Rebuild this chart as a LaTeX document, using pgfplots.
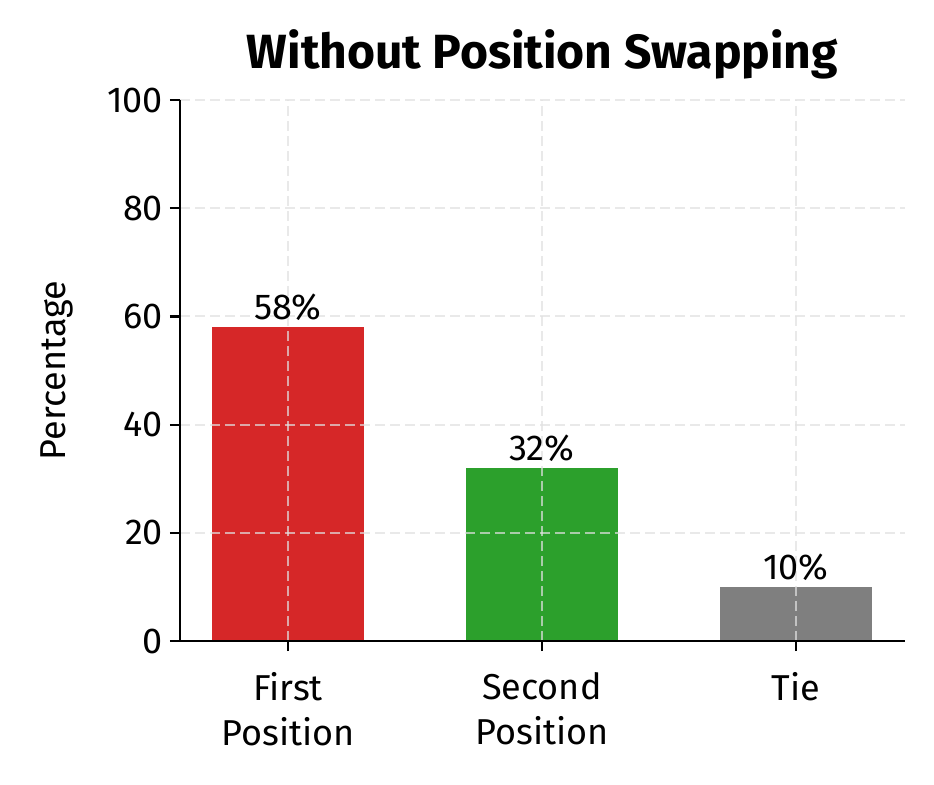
\documentclass[border=0pt]{standalone}
\usepackage{pgfplots}
\pgfplotsset{compat=1.18}
\usepackage{fontspec}
\setmainfont{Fira Sans}
\definecolor{barred}{HTML}{D62728}
\definecolor{bargreen}{HTML}{2CA02C}
\definecolor{bargray}{HTML}{7F7F7F}
\definecolor{gridgray}{HTML}{E0E0E0}
\begin{document}
\begin{tikzpicture}
\begin{axis}[
  scale only axis,
  width=362.5pt, height=270.5pt,
  xmin=-0.425, xmax=2.43,
  ymin=0, ymax=100,
  axis lines*=left,
  axis line style={line width=1.1pt},
  axis on top,
  xtick={0,1,2},
  xticklabels={First\\Position, Second\\Position, Tie},
  xticklabel style={align=center, font=\fontsize{18}{22.5}\selectfont, yshift=-7pt},
  ytick={0,20,40,60,80,100},
  yticklabel style={font=\fontsize{18}{20}\selectfont},
  /pgf/number format/assume math mode=true,
  tick style={line width=1.1pt, black},
  tick align=outside,
  major tick length=5pt,
  grid=major,
  major grid style={gridgray, line width=1pt, dash pattern=on 5pt off 2.5pt, opacity=0.7},
  ylabel={Percentage},
  ylabel style={font=\fontsize{18}{20}\selectfont, yshift=10pt},
  title={\textbf{Without Position Swapping}},
  title style={font=\fontsize{24}{26}\selectfont, yshift=1pt},
  ybar, bar width=0.6, bar shift=0pt,
  nodes near coords={\pgfmathprintnumber{\pgfplotspointmeta}\%},
  nodes near coords style={font=\fontsize{18}{20}\selectfont, black, inner sep=1pt, yshift=2pt},
]
\addplot[fill=barred, draw=none] coordinates {(0,58)};
\addplot[fill=bargreen, draw=none] coordinates {(1,32)};
\addplot[fill=bargray, draw=none] coordinates {(2,10)};
\coordinate (bl) at (rel axis cs:0,0);
\end{axis}
\pgfresetboundingbox
\path (bl) ++(-90pt,-71.5pt) rectangle ++(467pt,392pt);
\end{tikzpicture}
\end{document}
